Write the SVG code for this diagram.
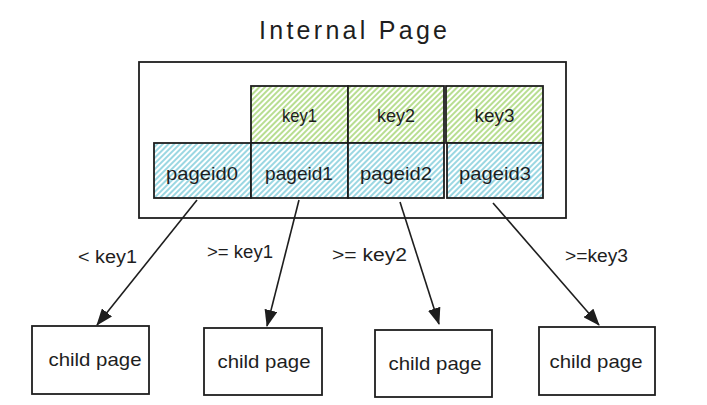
<svg xmlns="http://www.w3.org/2000/svg" width="707" height="405" viewBox="0 0 707 405">
<defs>
<pattern id="hGreen" patternUnits="userSpaceOnUse" width="4" height="4" patternTransform="rotate(45)">
<rect width="4" height="4" fill="#ffffff"/>
<line x1="1" y1="0" x2="1" y2="4" stroke="#a6d676" stroke-width="1.6"/>
</pattern>
<pattern id="hBlue" patternUnits="userSpaceOnUse" width="4" height="4" patternTransform="rotate(45)">
<rect width="4" height="4" fill="#ffffff"/>
<line x1="1" y1="0" x2="1" y2="4" stroke="#82cddb" stroke-width="1.6"/>
</pattern>
<marker id="arrow" viewBox="0 0 17 13" refX="16" refY="6.5" markerWidth="17" markerHeight="13" markerUnits="userSpaceOnUse" orient="auto">
<path d="M0,0 L17,6.5 L0,13 Z" fill="#1e1e1e"/>
</marker>
</defs>
<style>
.t{font-family:"Liberation Sans","DejaVu Sans",sans-serif;fill:#1e1e1e;text-anchor:middle}
.box{fill:none;stroke:#1e1e1e;stroke-width:1.8}
.key{fill:url(#hGreen);stroke:#1e1e1e;stroke-width:1.8}
.pid{fill:url(#hBlue);stroke:#1e1e1e;stroke-width:1.8}
.conn{fill:none;stroke:#1e1e1e;stroke-width:1.6;marker-end:url(#arrow)}
.k{font-size:19px}
.lbl{font-size:18px}
</style>
<rect width="707" height="405" fill="#ffffff"/>
<g id="title">
<text class="t" x="353" y="39" font-size="25" textLength="188" lengthAdjust="spacing">Internal Page</text>
</g>
<g id="internal-page">
<rect class="box" x="139" y="62" width="427" height="156" stroke-width="2"/>
</g>
<g id="key1"><rect class="key" x="251" y="86" width="97" height="57"/><text class="t k" x="299.5" y="122" textLength="35" lengthAdjust="spacingAndGlyphs">key1</text></g>
<g id="key2"><rect class="key" x="348" y="86" width="96" height="57"/><text class="t k" x="396" y="122" textLength="38" lengthAdjust="spacingAndGlyphs">key2</text></g>
<g id="key3"><rect class="key" x="446" y="86" width="97" height="57"/><text class="t k" x="494.5" y="122" textLength="40" lengthAdjust="spacingAndGlyphs">key3</text></g>
<g id="pageid0"><rect class="pid" x="154" y="143" width="97" height="55"/><text class="t k" x="202" y="180" textLength="72" lengthAdjust="spacingAndGlyphs">pageid0</text></g>
<g id="pageid1"><rect class="pid" x="251" y="143" width="97" height="55"/><text class="t k" x="299" y="180" textLength="68" lengthAdjust="spacingAndGlyphs">pageid1</text></g>
<g id="pageid2"><rect class="pid" x="348" y="143" width="96" height="55"/><text class="t k" x="396" y="180" textLength="72" lengthAdjust="spacingAndGlyphs">pageid2</text></g>
<g id="pageid3"><rect class="pid" x="447" y="143" width="96" height="55"/><text class="t k" x="495" y="180" textLength="72" lengthAdjust="spacingAndGlyphs">pageid3</text></g>
<g id="child1"><rect class="box" x="32" y="326" width="117" height="68"/><text class="t k" x="95" y="366" textLength="93" lengthAdjust="spacingAndGlyphs">child page</text></g>
<g id="child2"><rect class="box" x="204" y="328" width="118" height="67"/><text class="t k" x="264" y="368" textLength="93" lengthAdjust="spacingAndGlyphs">child page</text></g>
<g id="child3"><rect class="box" x="375" y="330" width="117" height="67"/><text class="t k" x="435" y="370" textLength="93" lengthAdjust="spacingAndGlyphs">child page</text></g>
<g id="child4"><rect class="box" x="539" y="327" width="116" height="68"/><text class="t k" x="596" y="368" textLength="93" lengthAdjust="spacingAndGlyphs">child page</text></g>
<g id="connectors">
<line class="conn" x1="197" y1="200" x2="97" y2="325"/>
<line class="conn" x1="299" y1="200" x2="267" y2="326"/>
<line class="conn" x1="400" y1="202" x2="439" y2="324"/>
<line class="conn" x1="493" y1="203" x2="599" y2="325"/>
<text class="t lbl" x="107.5" y="263" textLength="59" lengthAdjust="spacingAndGlyphs">&lt; key1</text>
<text class="t lbl" x="240" y="258" textLength="66" lengthAdjust="spacingAndGlyphs">&gt;= key1</text>
<text class="t lbl" x="369.5" y="261" textLength="75" lengthAdjust="spacingAndGlyphs">&gt;= key2</text>
<text class="t lbl" x="596.5" y="262" textLength="63" lengthAdjust="spacingAndGlyphs">&gt;=key3</text>
</g>
</svg>
